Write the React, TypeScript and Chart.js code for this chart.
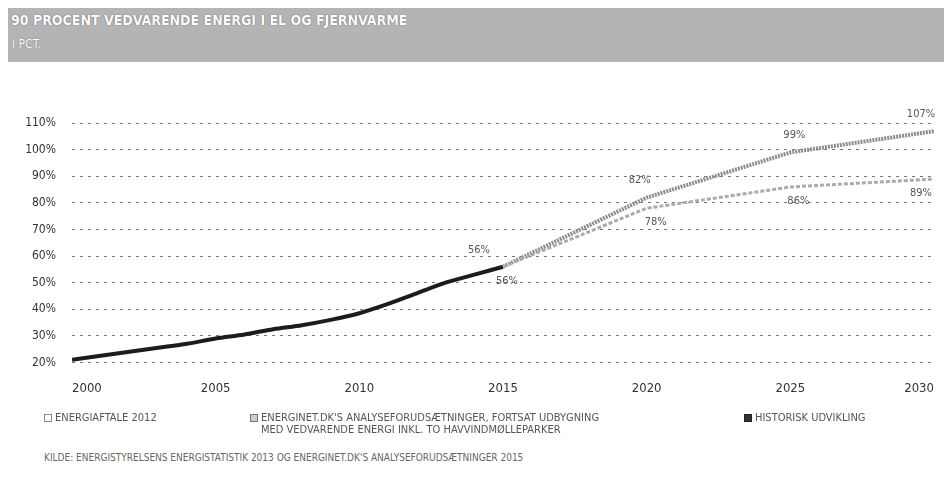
import React, { useEffect, useRef } from "react";
import { Chart, registerables } from "chart.js";

Chart.register(...registerables);

// ---- data ----
const historyYears = [2000, 2001, 2002, 2003, 2004, 2005, 2006, 2007, 2008, 2009, 2010, 2011, 2012, 2013, 2014, 2015];
const historyValues = [21, 22.5, 24, 25.5, 27, 29, 30.5, 32.5, 34, 36, 38.5, 42, 46, 50, 53, 56];
const projectionYears = [2015, 2020, 2025, 2030];
const energinetValues = [56, 82, 99, 107];
const aftaleValues = [56, 78, 86, 89];
const xTicks = [2000, 2005, 2010, 2015, 2020, 2025, 2030];
const yTicks = [20, 30, 40, 50, 60, 70, 80, 90, 100, 110];

const legendLabels = [
  "ENERGIAFTALE 2012",
  "ENERGINET.DK'S ANALYSEFORUDSÆTNINGER, FORTSAT UDBYGNING",
  "MED VEDVARENDE ENERGI INKL. TO HAVVINDMØLLEPARKER",
  "HISTORISK UDVIKLING",
];
const footnote =
  "KILDE: ENERGISTYRELSENS ENERGISTATISTIK 2013 OG ENERGINET.DK'S ANALYSEFORUDSÆTNINGER 2015";

const FONT = "'DejaVu Sans Condensed', 'DejaVu Sans', sans-serif";

const toPoints = (xs: number[], ys: number[]) => xs.map((x, i) => ({ x, y: ys[i] }));

const pointLabelPlugin = {
  id: "pointLabels",
  afterDatasetsDraw(chart: any) {
    const ctx = chart.ctx;
    ctx.save();
    ctx.font = `11px ${FONT}`;
    ctx.fillStyle = "#555";
    ctx.textAlign = "center";
    ctx.textBaseline = "middle";
    chart.data.datasets.forEach((ds: any, di: number) => {
      if (!ds.labelDx) return;
      const meta = chart.getDatasetMeta(di);
      meta.data.forEach((el: any, i: number) => {
        const v = ds.data[i].y;
        ctx.fillText(`${v}%`, el.x + ds.labelDx[i], el.y + ds.labelDy);
      });
    });
    ctx.restore();
  },
};

function ChartCanvas() {
  const ref = useRef<HTMLCanvasElement | null>(null);
  useEffect(() => {
    if (!ref.current) return;
    const chart = new Chart(ref.current, {
      type: "line",
      data: {
        datasets: [
          {
            label: legendLabels[0],
            data: toPoints(projectionYears, aftaleValues),
            borderColor: "#ababab",
            borderWidth: 3,
            borderDash: [4, 2],
            pointRadius: 0,
            tension: 0,
            labelDx: [4, 9, 8, -13],
            labelDy: 14,
          } as any,
          {
            label: legendLabels[1],
            data: toPoints(projectionYears, energinetValues),
            borderColor: "#8c8c8c",
            borderWidth: 4,
            borderDash: [2, 1],
            pointRadius: 0,
            tension: 0,
            labelDx: [-24, -7, 4, -13],
            labelDy: -17,
          } as any,
          {
            label: legendLabels[3],
            data: toPoints(historyYears, historyValues),
            borderColor: "#1c1c1c",
            borderWidth: 4,
            pointRadius: 0,
            tension: 0.3,
          } as any,
        ],
      },
      options: {
        animation: false,
        responsive: false,
        maintainAspectRatio: false,
        layout: { padding: { top: 22.7, right: 7, bottom: 4, left: 0 } },
        plugins: { legend: { display: false }, tooltip: { enabled: false } },
        scales: {
          x: {
            type: "linear",
            min: 2000,
            max: 2030,
            afterBuildTicks: (s: any) => {
              s.ticks = xTicks.map((v) => ({ value: v }));
            },
            ticks: {
              align: "inner",
              padding: 18,
              color: "#333",
              font: { family: FONT, size: 13 },
              callback: (v: any) => String(v),
              maxRotation: 0,
            },
            grid: { display: false, drawTicks: false },
            border: { display: false },
          },
          y: {
            min: 20,
            max: 110,
            afterBuildTicks: (s: any) => {
              s.ticks = yTicks.map((v) => ({ value: v }));
            },
            afterFit: (s: any) => {
              s.width = 72;
            },
            ticks: {
              padding: 16,
              color: "#333",
              font: { family: FONT, size: 12 },
              callback: (v: any) => `${v}%`,
            },
            grid: {
              color: "#777",
              lineWidth: 1,
              drawTicks: false,
            },
            border: { display: false, dash: [3, 5] },
          },
        },
      },
      plugins: [pointLabelPlugin],
    });
    return () => chart.destroy();
  }, []);
  return (
    <canvas
      ref={ref}
      width={952}
      height={318}
      style={{ position: "absolute", left: 0, top: 100, width: 952, height: 318 }}
    />
  );
}

const marker = (bg: string, border: string): React.CSSProperties => ({
  position: "absolute",
  width: 6,
  height: 6,
  background: bg,
  border: `1px solid ${border}`,
});

export default function App() {
  const legendText: React.CSSProperties = {
    position: "absolute",
    fontFamily: FONT,
    fontSize: 11,
    color: "#555",
    whiteSpace: "nowrap",
    lineHeight: "12px",
  };
  return (
    <div style={{ position: "relative", width: 952, height: 490, margin: -8, background: "#fff", overflow: "hidden" }}>
      <div
        style={{
          position: "absolute",
          left: 8,
          top: 8,
          width: 937,
          height: 54,
          background: "#b4b4b4",
        }}
      >
        <div
          style={{
            position: "absolute",
            left: 3,
            top: 4,
            fontFamily: FONT,
            fontWeight: "bold",
            fontSize: 14,
            color: "#fff",
            whiteSpace: "nowrap",
            textShadow: "0 0 1px #333",
          }}
        >
          90 PROCENT VEDVARENDE ENERGI I EL OG FJERNVARME
        </div>
        <div
          style={{
            position: "absolute",
            left: 4,
            top: 29,
            fontFamily: FONT,
            fontSize: 12,
            color: "#fff",
            whiteSpace: "nowrap",
            textShadow: "0 0 1px #555",
          }}
        >
          I PCT.
        </div>
      </div>
      <ChartCanvas />
      <div style={{ ...marker("#fff", "#888"), left: 44, top: 414 }} />
      <div style={{ ...legendText, left: 55, top: 412 }}>{legendLabels[0]}</div>
      <div style={{ ...marker("#ccc", "#777"), left: 250, top: 414 }} />
      <div style={{ ...legendText, left: 261, top: 412 }}>
        {legendLabels[1]}
        <br />
        {legendLabels[2]}
      </div>
      <div style={{ ...marker("#333", "#222"), left: 744, top: 414 }} />
      <div style={{ ...legendText, left: 755, top: 412 }}>{legendLabels[3]}</div>
      <div style={{ ...legendText, left: 44, top: 452, fontSize: 10, color: "#666" }}>{footnote}</div>
    </div>
  );
}
